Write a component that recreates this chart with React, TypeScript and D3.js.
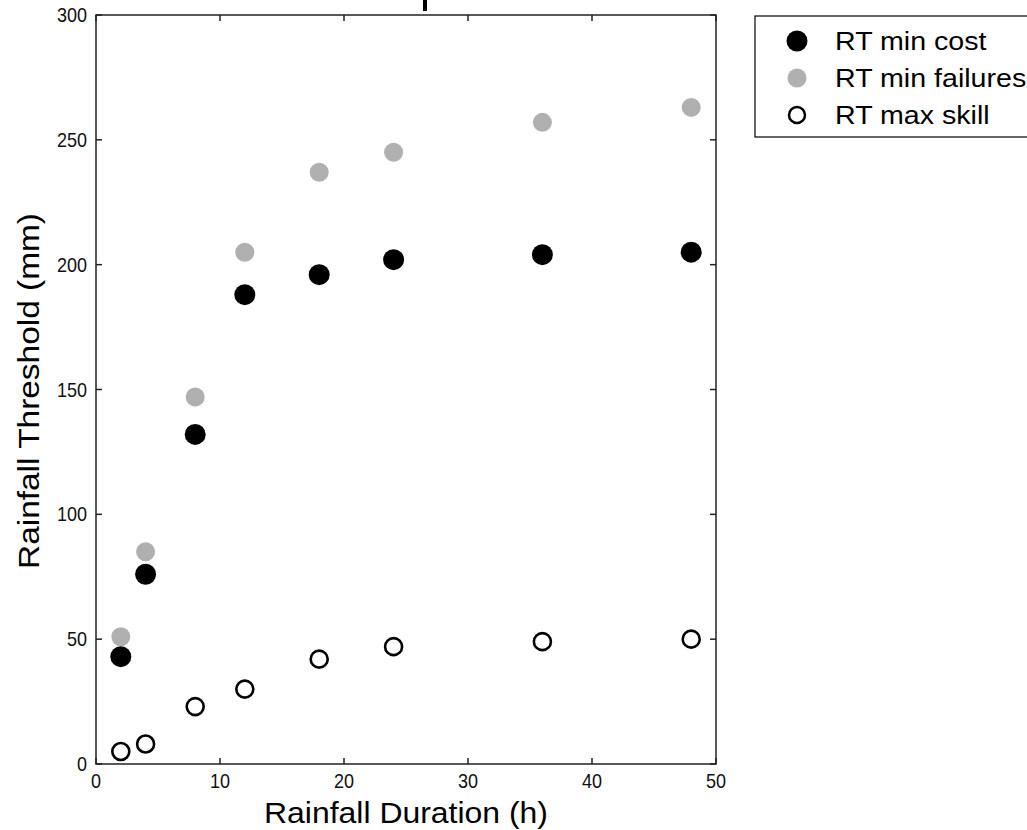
import React from "react";
import * as d3 from "d3";

const durations = [2, 4, 8, 12, 18, 24, 36, 48];
const minCost = [43, 76, 132, 188, 196, 202, 204, 205];
const minFailures = [51, 85, 147, 205, 237, 245, 257, 263];
const maxSkill = [5, 8, 23, 30, 42, 47, 49, 50];
const xTicks = [0, 10, 20, 30, 40, 50];
const yTicks = [0, 50, 100, 150, 200, 250, 300];
const legendLabels = ["RT min cost", "RT min failures", "RT max skill"];

export default function App() {
  const left = 96, right = 716, top = 15, bottom = 764;
  const x = d3.scaleLinear().domain([0, 50]).range([left, right]);
  const y = d3.scaleLinear().domain([0, 300]).range([bottom, top]);
  const tk = 6;
  const font = "Arial, 'Liberation Sans', sans-serif";
  const gray = "#b0b0b0";
  return (
    <svg width={1027} height={830} style={{ position: "absolute", left: 0, top: 0, background: "#fff" }} fontFamily={font}>
      <rect x={0} y={0} width={1027} height={830} fill="#fff" />
      {/* stray title fragment */}
      <rect x={423} y={0} width={4} height={11} fill="#000" />
      <rect x={left} y={top} width={right - left} height={bottom - top} fill="none" stroke="#222" strokeWidth={1.5} />
      {xTicks.map((t) => (
        <g key={"x" + t}>
          <line x1={x(t)} x2={x(t)} y1={bottom} y2={bottom - tk} stroke="#222" strokeWidth={1.5} />
          <line x1={x(t)} x2={x(t)} y1={top} y2={top + tk} stroke="#222" strokeWidth={1.5} />
          <text transform={`translate(${x(t)}, ${bottom + 24}) scale(0.9,1)`} fontSize={20} textAnchor="middle" fill="#111">{t}</text>
        </g>
      ))}
      {yTicks.map((t) => (
        <g key={"y" + t}>
          <line x1={left} x2={left + tk} y1={y(t)} y2={y(t)} stroke="#222" strokeWidth={1.5} />
          <line x1={right} x2={right - tk} y1={y(t)} y2={y(t)} stroke="#222" strokeWidth={1.5} />
          <text transform={`translate(${left - 9}, ${y(t) + 7}) scale(0.9,1)`} fontSize={20} textAnchor="end" fill="#111">{t}</text>
        </g>
      ))}
      {durations.map((d, i) => (
        <circle key={"f" + i} cx={x(d)} cy={y(minFailures[i])} r={9.5} fill={gray} />
      ))}
      {durations.map((d, i) => (
        <circle key={"c" + i} cx={x(d)} cy={y(minCost[i])} r={10.5} fill="#000" />
      ))}
      {durations.map((d, i) => (
        <circle key={"s" + i} cx={x(d)} cy={y(maxSkill[i])} r={8.5} fill="none" stroke="#000" strokeWidth={2.6} />
      ))}
      <text x={(left + right) / 2 + 0} y={823} fontSize={30} textAnchor="middle" fill="#000" textLength={284} lengthAdjust="spacingAndGlyphs">Rainfall Duration (h)</text>
      <text transform={`translate(39, 391) rotate(-90)`} fontSize={30} textAnchor="middle" fill="#000" textLength={356} lengthAdjust="spacingAndGlyphs">Rainfall Threshold (mm)</text>
      <rect x={755} y={16} width={290} height={121} fill="#fff" stroke="#000" strokeWidth={1.2} />
      {legendLabels.map((l, i) => {
        const cy = 41 + i * 37;
        return (
          <g key={"l" + i}>
            {i === 0 && <circle cx={797} cy={cy} r={10.5} fill="#000" />}
            {i === 1 && <circle cx={797} cy={cy} r={9.5} fill={gray} />}
            {i === 2 && <circle cx={797} cy={cy} r={8} fill="none" stroke="#000" strokeWidth={2.5} />}
            <text transform={`translate(835, ${cy + 9}) scale(1.1,1)`} fontSize={26} fill="#000">{l}</text>
          </g>
        );
      })}
    </svg>
  );
}
